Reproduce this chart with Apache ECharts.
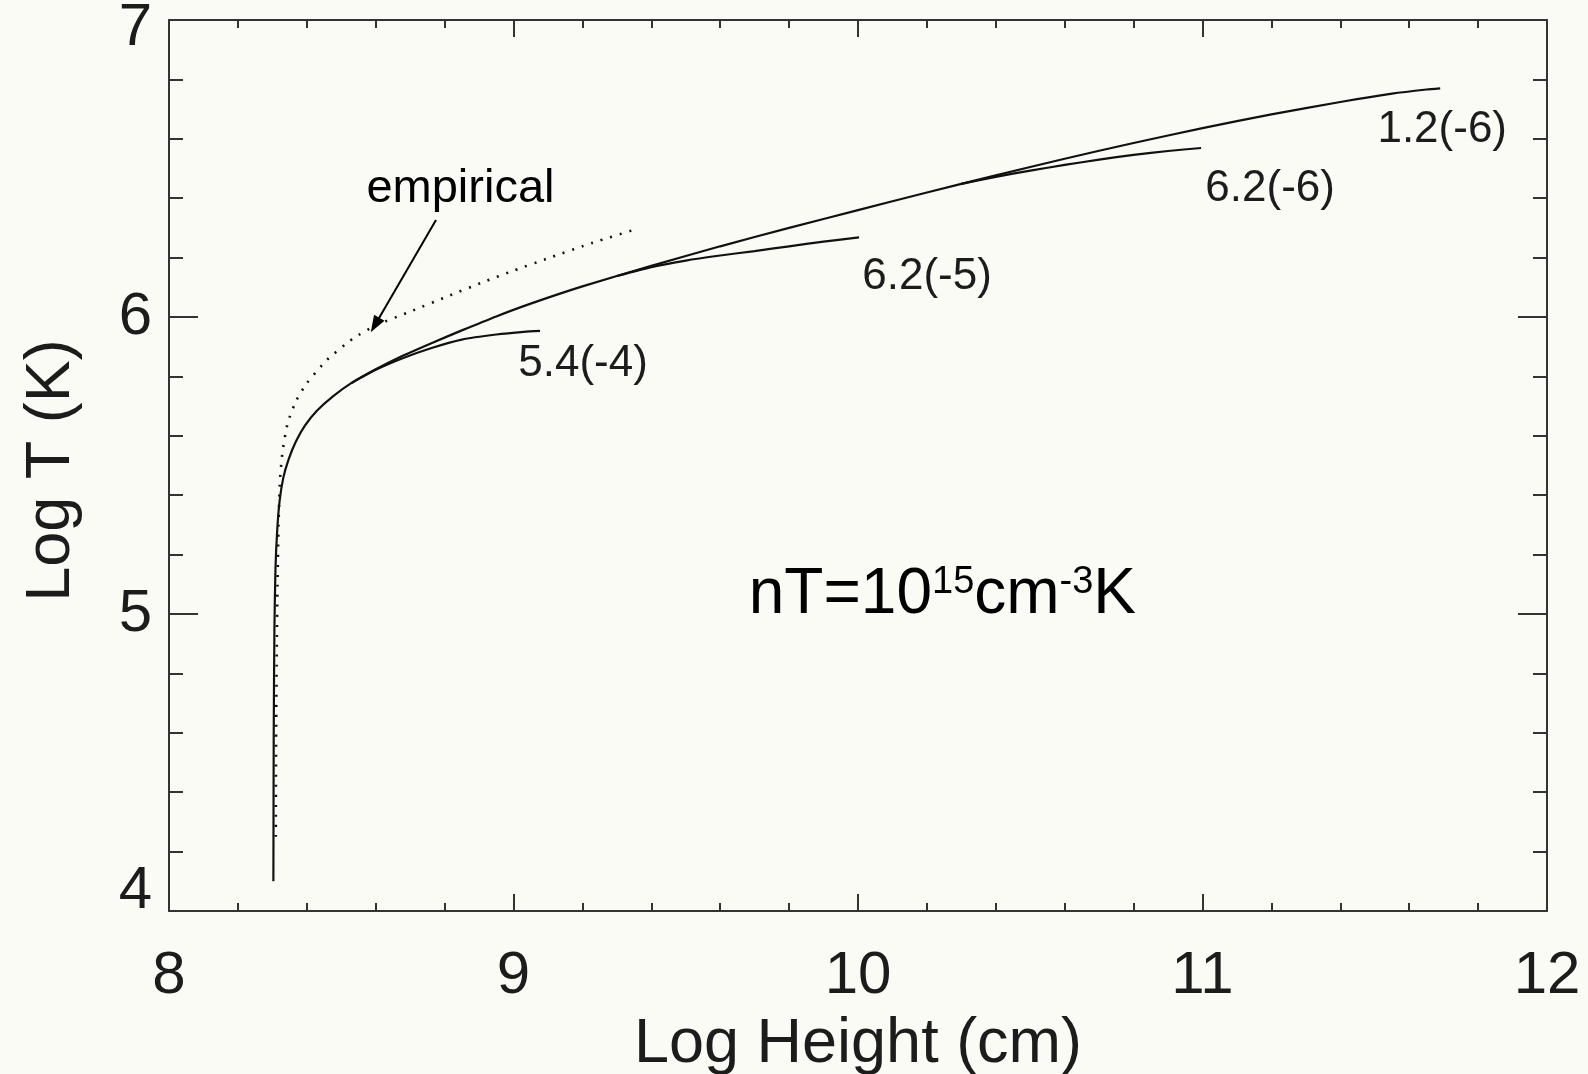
<!DOCTYPE html>
<html>
<head>
<meta charset="utf-8">
<script src="https://cdn.jsdelivr.net/npm/echarts@6/dist/echarts.min.js"></script>
<style>
  html, body { margin: 0; padding: 0; background: #fbfbf6; }
  #chart { width: 1588px; height: 1074px; }
</style>
</head>
<body>
<div id="chart"></div>
<script>
// log height (cm) / log T (K)
const heightMain = [8.303, 8.304, 8.306, 8.309, 8.314, 8.321, 8.332, 8.347, 8.368, 8.395, 8.430, 8.475, 8.530, 8.600, 8.680, 8.760, 8.850, 8.950, 9.050, 9.200, 9.400, 9.600, 9.800, 10.000, 10.200, 10.400, 10.600, 10.800, 11.000, 11.200, 11.400, 11.550, 11.650, 11.690];
const tempMain = [4.10, 4.60, 4.95, 5.15, 5.28, 5.38, 5.46, 5.52, 5.58, 5.635, 5.685, 5.732, 5.778, 5.824, 5.870, 5.911, 5.955, 6.002, 6.045, 6.103, 6.172, 6.238, 6.300, 6.360, 6.419, 6.477, 6.533, 6.586, 6.636, 6.682, 6.724, 6.752, 6.766, 6.770];

// branches start where they leave the main curve
const height62m6 = [10.3, 10.4, 10.5, 10.6, 10.7, 10.8, 10.9, 10.996];
const temp62m6 = [6.448, 6.472, 6.493, 6.512, 6.530, 6.546, 6.559, 6.569];

const height62m5 = [9.3, 9.4, 9.5, 9.6, 9.7, 9.8, 9.9, 10.003];
const temp62m5 = [6.138, 6.168, 6.190, 6.207, 6.222, 6.238, 6.254, 6.268];

const height54m4 = [8.530, 8.600, 8.680, 8.760, 8.850, 8.950, 9.030, 9.077];
const temp54m4 = [5.778, 5.822, 5.862, 5.895, 5.924, 5.941, 5.950, 5.953];

const heightEmp = [8.310, 8.311, 8.313, 8.315, 8.318, 8.322, 8.330, 8.345, 8.370, 8.400, 8.458, 8.535, 8.603, 8.700, 8.816, 8.913, 9.000, 9.106, 9.230, 9.348];
const tempEmp = [4.25, 4.60, 4.90, 5.10, 5.30, 5.45, 5.55, 5.645, 5.72, 5.777, 5.855, 5.928, 5.973, 6.018, 6.073, 6.118, 6.156, 6.200, 6.250, 6.293];

const xTicks = [8, 9, 10, 11, 12];
const yTicks = [4, 5, 6, 7];

// annotation anchors (data units)
const arrowFrom = [8.775, 6.327];
const arrowTo = [8.598, 5.973];
const empiricalAt = [8.846, 6.431];
const nTAt = [10.245, 5.063];

const FONT = '"Liberation Sans", Arial, Helvetica, sans-serif';
const INK = '#1c1c1c';

const zip = (xs, ys) => xs.map((x, i) => [x, ys[i]]);

const chart = echarts.init(document.getElementById('chart'));

const baseX = {
  type: 'value',
  min: xTicks[0],
  max: xTicks[xTicks.length - 1],
  interval: 1,
  axisLine: { show: true, onZero: false, lineStyle: { color: '#333', width: 2 } },
  axisTick: { show: true, inside: true, length: 17, lineStyle: { color: '#333', width: 2 } },
  minorTick: { show: true, splitNumber: 5, length: 8, lineStyle: { color: '#333', width: 2 } },
  splitLine: { show: false },
  minorSplitLine: { show: false }
};

const baseY = {
  type: 'value',
  min: yTicks[0],
  max: yTicks[yTicks.length - 1],
  interval: 1,
  axisLine: { show: true, onZero: false, lineStyle: { color: '#333', width: 2 } },
  axisTick: { show: true, inside: true, length: 29, lineStyle: { color: '#333', width: 2 } },
  minorTick: { show: true, splitNumber: 5, length: 14, lineStyle: { color: '#333', width: 2 } },
  splitLine: { show: false },
  minorSplitLine: { show: false }
};

const branchLabel = (text, offset) => ({
  show: true,
  formatter: text,
  fontFamily: FONT,
  fontSize: 44,
  color: INK,
  distance: 0,
  align: 'center',
  verticalAlign: 'middle',
  offset: offset
});

const lineStyle = { color: '#111', width: 2.2 };
const curve = { type: 'line', showSymbol: false, smooth: 0.2, lineStyle: lineStyle };

const tickFont = { fontFamily: FONT, fontSize: 60, color: INK };

// end labels sit a little inside, like the original
const yLabel = v => (v === 4 ? '{lo|4}' : v === 7 ? '{hi|7}' : '{n|' + v + '}');

const option = {
  backgroundColor: '#fbfbf6',
  animation: false,
  grid: { left: 169, right: 41, top: 20, bottom: 163, outerBoundsMode: 'none' },
  xAxis: [
    Object.assign({}, baseX, {
      position: 'bottom',
      name: 'Log Height (cm)',
      nameLocation: 'middle',
      nameGap: 102,
      nameTextStyle: { fontFamily: FONT, fontSize: 63, color: INK },
      axisLabel: Object.assign({ show: true, margin: 35 }, tickFont)
    }),
    Object.assign({}, baseX, { position: 'top', axisLabel: { show: false } })
  ],
  yAxis: [
    Object.assign({}, baseY, {
      position: 'left',
      name: 'Log T (K)',
      nameLocation: 'middle',
      nameRotate: 90,
      nameGap: 86,
      nameTextStyle: { fontFamily: FONT, fontSize: 63, color: INK, padding: [0, 10, 0, 0] },
      axisLabel: {
        show: true,
        margin: 17,
        formatter: yLabel,
        rich: {
          n: tickFont,
          lo: Object.assign({ padding: [0, 0, 40, 0] }, tickFont),
          hi: Object.assign({ padding: [16, 0, 0, 0] }, tickFont)
        }
      }
    }),
    Object.assign({}, baseY, { position: 'right', axisLabel: { show: false } })
  ],
  series: [
    Object.assign({}, curve, {
      name: 'empirical',
      data: zip(heightEmp, tempEmp),
      lineStyle: { color: '#111', width: 2.6, type: [2, 8] },
      markLine: {
        silent: true,
        symbol: ['none', 'triangle'],
        symbolSize: [12, 17],
        label: { show: false },
        lineStyle: { color: '#000', width: 2, type: 'solid' },
        data: [[{ coord: arrowFrom }, { coord: arrowTo }]]
      },
      markPoint: {
        silent: true,
        symbol: 'circle',
        symbolSize: 0,
        label: {
          show: true,
          position: 'inside',
          formatter: 'empirical',
          fontFamily: FONT,
          fontSize: 47,
          color: '#000'
        },
        data: [{ coord: empiricalAt }]
      }
    }),
    Object.assign({}, curve, {
      name: '5.4(-4)',
      data: zip(height54m4, temp54m4),
      endLabel: branchLabel('5.4(-4)', [43, 33])
    }),
    Object.assign({}, curve, {
      name: '6.2(-5)',
      data: zip(height62m5, temp62m5),
      endLabel: branchLabel('6.2(-5)', [68, 39])
    }),
    Object.assign({}, curve, {
      name: '6.2(-6)',
      data: zip(height62m6, temp62m6),
      endLabel: branchLabel('6.2(-6)', [69, 41])
    }),
    Object.assign({}, curve, {
      name: '1.2(-6)',
      data: zip(heightMain, tempMain),
      endLabel: branchLabel('1.2(-6)', [2, 42]),
      markPoint: {
        silent: true,
        symbol: 'circle',
        symbolSize: 0,
        label: {
          show: true,
          position: 'inside',
          formatter: '{m|nT=10}{s|15}{m|cm}{s|-3}{m|K}',
          rich: {
            m: { fontFamily: FONT, fontSize: 64, color: '#000', lineHeight: 64 },
            s: { fontFamily: FONT, fontSize: 38, color: '#000', verticalAlign: 'top', lineHeight: 64 }
          }
        },
        data: [{ coord: nTAt }]
      }
    })
  ]
};

chart.setOption(option);
</script>
</body>
</html>
